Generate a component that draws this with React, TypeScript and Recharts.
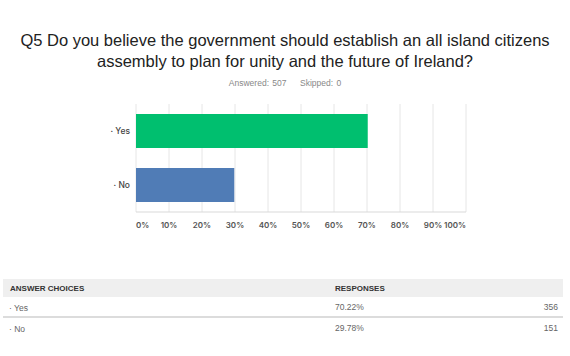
import React from "react";
import { BarChart, Bar, XAxis, YAxis, CartesianGrid, Cell } from "recharts";

const choices = ["Yes", "No"];
const percents = [70.22, 29.78];
const counts = [356, 151];
const barColors = ["#00BF6F", "#507CB6"];
const xTicks = [0, 10, 20, 30, 40, 50, 60, 70, 80, 90, 100];

const data = choices.map((name, i) => ({ name, value: percents[i] }));

const FONT = "'Liberation Sans', Arial, sans-serif";

const XTick = (props: any) => {
  const { x, y, payload } = props;
  const v = payload.value;
  const anchor = v === 0 ? "start" : v === 100 ? "end" : "middle";
  return (
    <text
      x={x}
      y={y + 8}
      textAnchor={anchor}
      fontSize={8}
      fontWeight={600}
      fill="#555"
      fontFamily="Inter, 'Open Sans', sans-serif"
    >
      {v}%
    </text>
  );
};

const YTick = (props: any) => {
  const { x, y, payload } = props;
  return (
    <text
      x={x + 2}
      y={y + 3}
      textAnchor="end"
      fontSize={8.5}
      fontWeight={500}
      fill="#444"
      fontFamily="Inter, 'Open Sans', sans-serif"
    >
      {"· " + payload.value}
    </text>
  );
};

export default function App() {
  return (
    <div
      style={{
        position: "absolute",
        left: 0,
        top: 0,
        width: 570,
        height: 356,
        background: "#fff",
        fontFamily: FONT,
        overflow: "hidden",
      }}
    >
      <div
        style={{
          position: "absolute",
          top: 30,
          left: 0,
          width: 570,
          textAlign: "center",
          fontSize: 16.5,
          lineHeight: "21px",
          color: "#222",
        }}
      >
        Q5 Do you believe the government should establish an all island citizens
        <br />
        assembly to plan for unity and the future of Ireland?
      </div>
      <div
        style={{
          position: "absolute",
          top: 78,
          left: 0,
          width: 570,
          textAlign: "center",
          fontSize: 8.5,
          color: "#888",
          wordSpacing: 1,
        }}
      >
        Answered: 507&nbsp;&nbsp;&nbsp;&nbsp;Skipped: 0
      </div>

      <div style={{ position: "absolute", left: 0, top: 0 }}>
        <BarChart
          width={570}
          height={270}
          data={data}
          layout="vertical"
          margin={{ top: 104, right: 104, bottom: 28, left: 96 }}
          barCategoryGap={17}
        >
          <CartesianGrid
            horizontal={false}
            vertical={true}
            stroke="#e6e6e6"
          />
          <XAxis
            type="number"
            domain={[0, 100]}
            ticks={xTicks}
            tick={<XTick />}
            tickLine={false}
            axisLine={{ stroke: "#d9d9d9" }}
            interval={0}
          />
          <YAxis
            type="category"
            dataKey="name"
            width={40}
            tick={<YTick />}
            tickLine={false}
            axisLine={false}
          />
          <Bar dataKey="value" isAnimationActive={false} barSize={34}>
            {data.map((d, i) => (
              <Cell key={d.name} fill={barColors[i]} />
            ))}
          </Bar>
        </BarChart>
      </div>

      <div
        style={{
          position: "absolute",
          left: 3,
          top: 279,
          width: 560,
          height: 18,
          background: "#efefef",
        }}
      />
      <div
        style={{
          position: "absolute",
          left: 10,
          top: 284,
          fontSize: 8,
          fontWeight: 700,
          color: "#333",
        }}
      >
        ANSWER CHOICES
      </div>
      <div
        style={{
          position: "absolute",
          left: 335,
          top: 284,
          fontSize: 8,
          fontWeight: 700,
          color: "#333",
        }}
      >
        RESPONSES
      </div>
      {choices.map((c, i) => (
        <React.Fragment key={c}>
          <div
            style={{
              position: "absolute",
              left: 9,
              top: 303 + i * 21,
              fontSize: 8.5,
              color: "#666",
            }}
          >
            {"· " + c}
          </div>
          <div
            style={{
              position: "absolute",
              left: 335,
              top: 302 + i * 21,
              fontSize: 8.5,
              color: "#666",
            }}
          >
            {percents[i].toFixed(2)}%
          </div>
          <div
            style={{
              position: "absolute",
              right: 570 - 558,
              top: 302 + i * 21,
              fontSize: 8.5,
              color: "#666",
            }}
          >
            {counts[i]}
          </div>
        </React.Fragment>
      ))}
      <div
        style={{
          position: "absolute",
          left: 3,
          top: 316,
          width: 560,
          height: 2,
          background: "#dcdcdc",
        }}
      />
    </div>
  );
}
